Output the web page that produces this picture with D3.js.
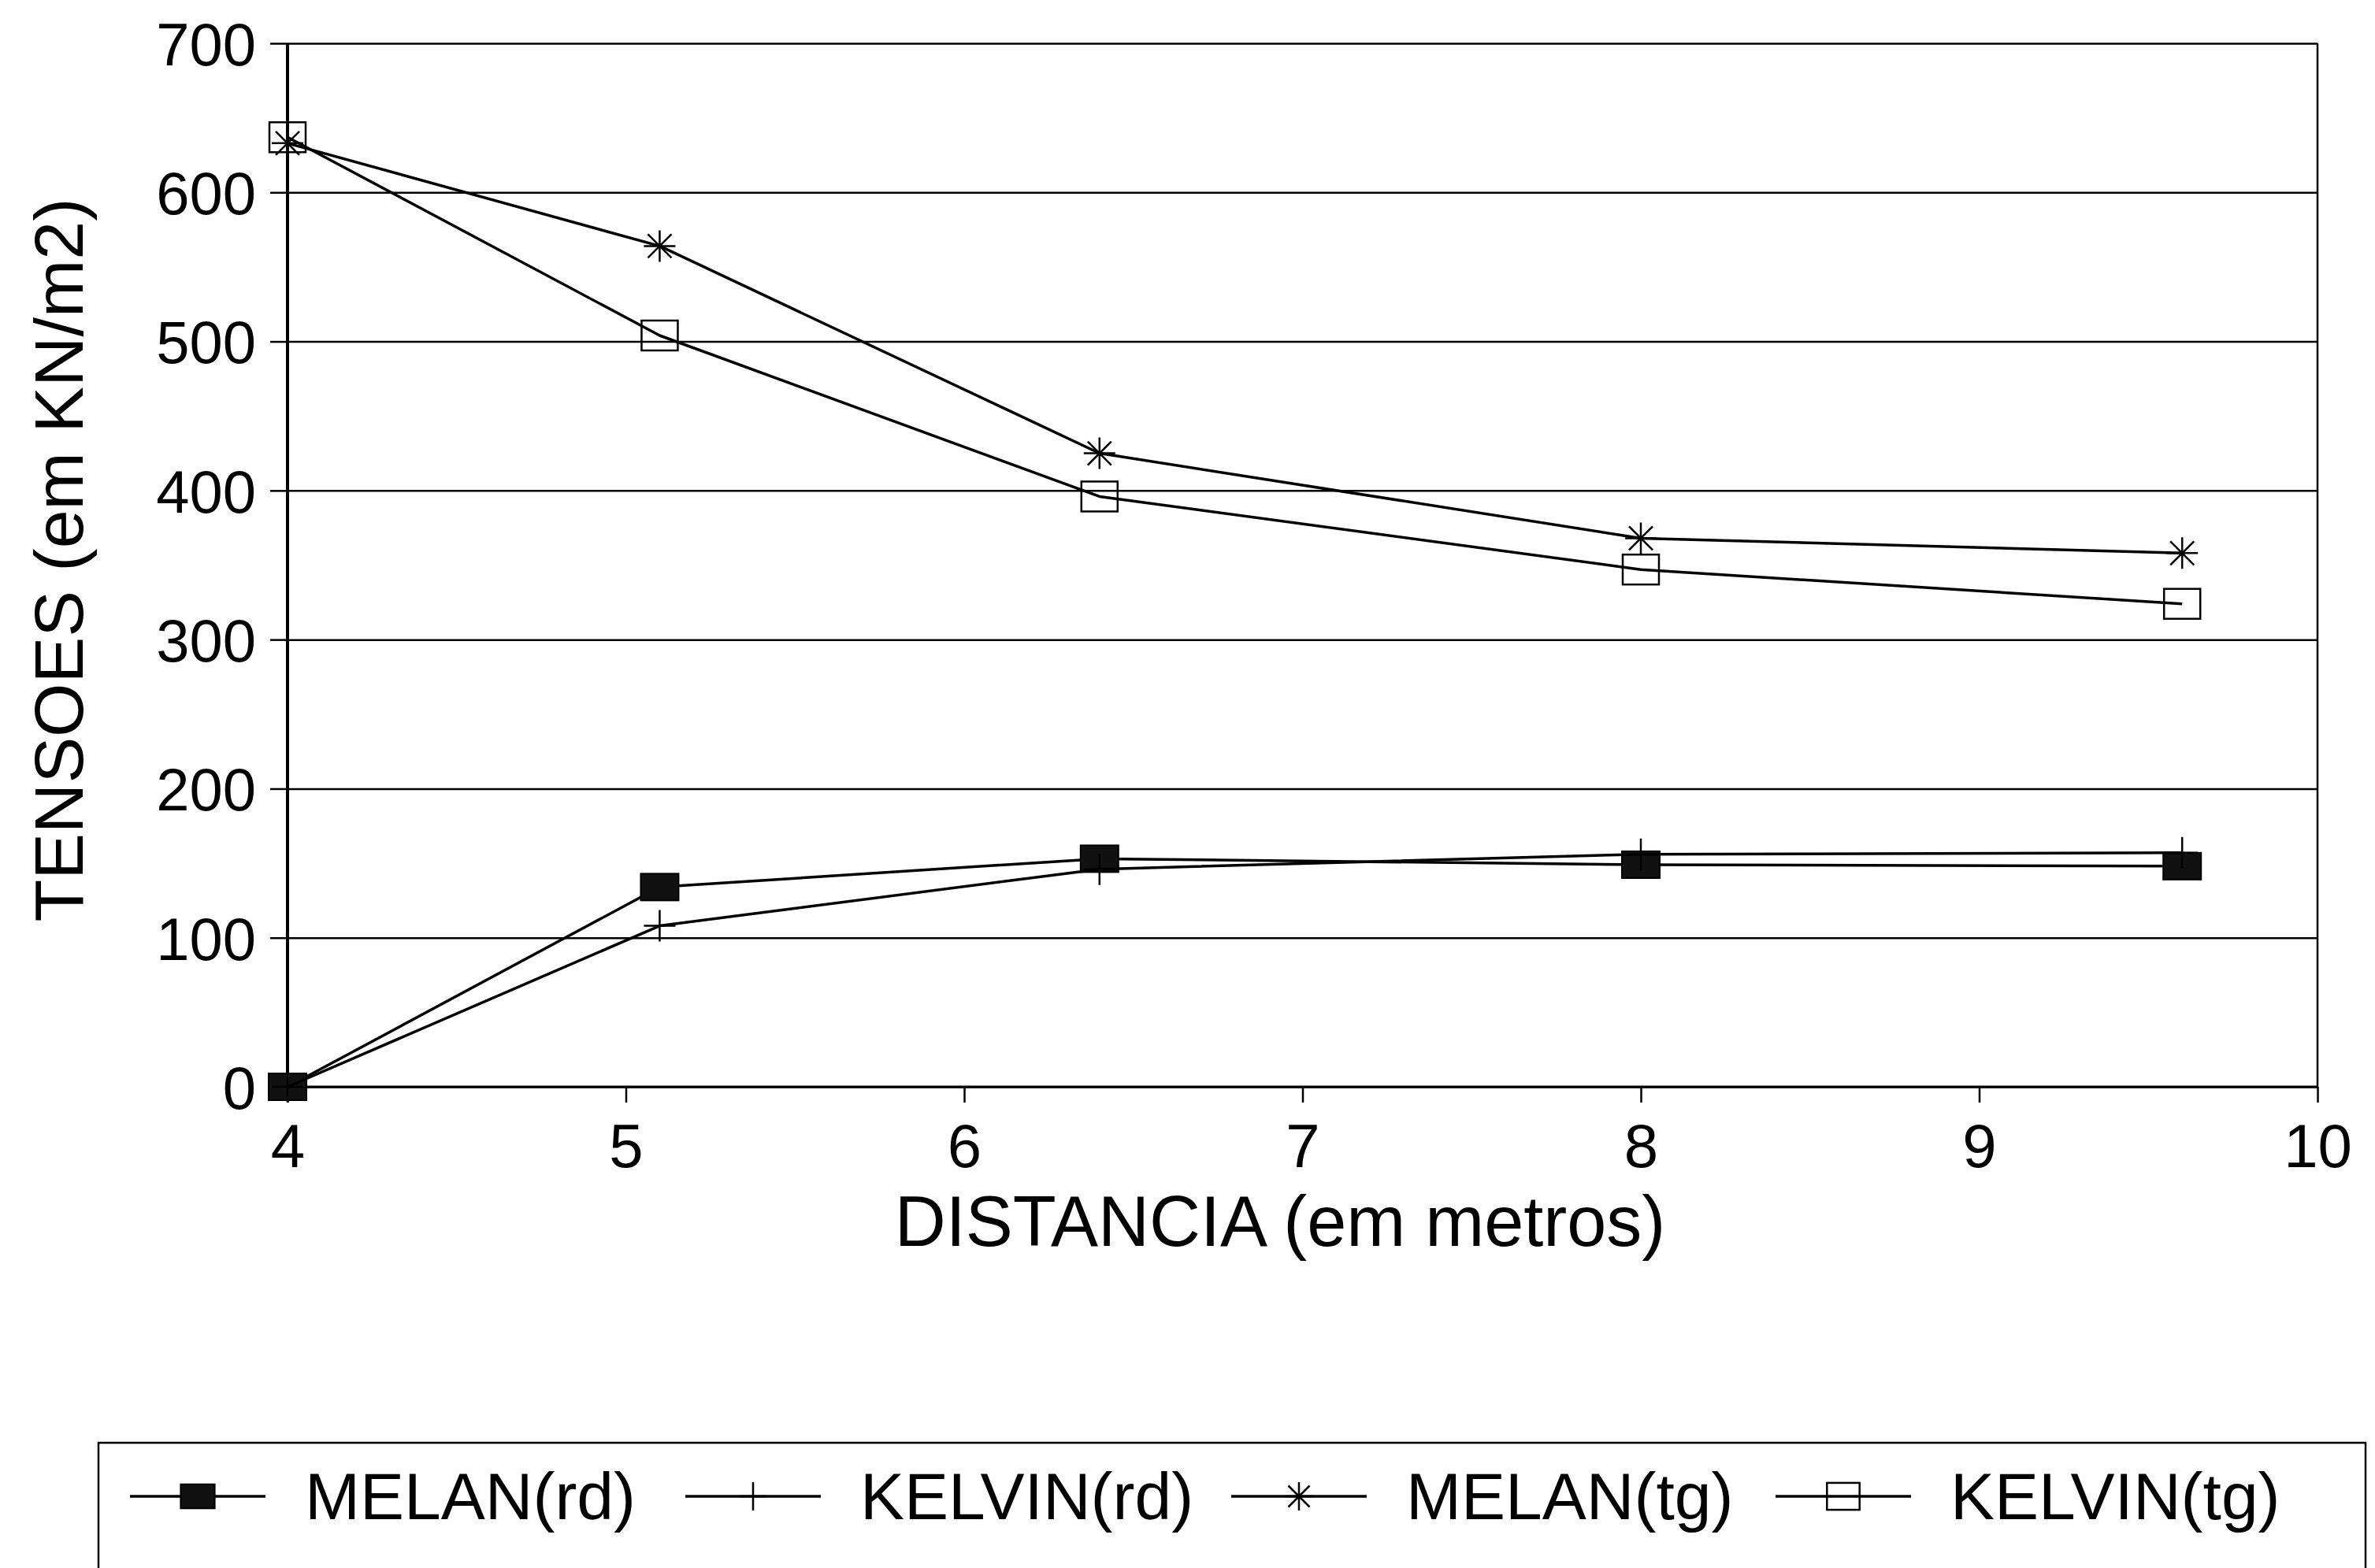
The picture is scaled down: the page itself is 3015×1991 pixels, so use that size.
<!DOCTYPE html>
<html>
<head>
<meta charset="utf-8">
<script src="https://cdn.jsdelivr.net/npm/d3@7"></script>
<style>
  body { margin: 0; background: #fff; }
  text { font-family: "Liberation Sans", Arial, Helvetica, sans-serif; fill: #000; }
  .grid line { stroke: #000; stroke-width: 2.5; }
  .grid path { display: none; }
  .axis path { display: none; }
  .axis line { stroke: #000; stroke-width: 2.5; }
  .serie { fill: none; stroke: #000; stroke-width: 3.5; stroke-linejoin: round; }
</style>
</head>
<body>
<script>

// valores
var distancia = [4, 5.1, 6.4, 8, 9.6];
var melanRd   = [0, 134, 153, 149, 148];
var kelvinRd  = [0, 108, 146, 156, 157];
var melanTg   = [633, 564, 425, 368, 358];
var kelvinTg  = [637, 504, 396, 347, 324];

var nomes   = ["MELAN(rd)", "KELVIN(rd)", "MELAN(tg)", "KELVIN(tg)"];
var simbolos = ["quadCheio", "mais", "asterisco", "quadVazio"];
var xTicks  = [4, 5, 6, 7, 8, 9, 10];
var yTicks  = [0, 100, 200, 300, 400, 500, 600, 700];

var margin = {top: 55, right: 73, bottom: 611, left: 365},
    width = 3015 - margin.left - margin.right,
    height = 1991 - margin.top - margin.bottom;

var x = d3.scaleLinear().domain([4, 10]).range([0, width]);
var y = d3.scaleLinear().domain([0, 700]).range([height, 0]);

var root = d3.select("body")
    .append("svg")
    .attr("width", 3015)
    .attr("height", 1991);

var svg = root.append("g")
    .attr("transform", "translate(" + margin.left + "," + margin.top + ")");

// linhas de grade horizontais
svg.append("g")
    .attr("class", "grid")
    .call(d3.axisLeft(y).tickValues(yTicks).tickSize(-width).tickFormat(""));

// moldura: direita
svg.append("line")
    .attr("x1", width).attr("x2", width)
    .attr("y1", 0).attr("y2", height)
    .attr("stroke", "#000").attr("stroke-width", 2.5);

// eixo y
svg.append("g")
    .attr("class", "axis")
    .call(d3.axisLeft(y).tickValues(yTicks).tickSize(22).tickPadding(18))
    .selectAll("text")
    .style("font-size", "76px")
    .attr("dy", "0.36em");

svg.append("line")
    .attr("x1", 0).attr("x2", 0)
    .attr("y1", 0).attr("y2", height)
    .attr("stroke", "#000").attr("stroke-width", 4);

// eixo x
svg.append("g")
    .attr("class", "axis")
    .attr("transform", "translate(0," + height + ")")
    .call(d3.axisBottom(x).tickValues(xTicks).tickSize(20).tickPadding(27).tickFormat(d3.format("d")))
    .selectAll("text")
    .style("font-size", "78px");

svg.append("line")
    .attr("x1", 0).attr("x2", width)
    .attr("y1", height).attr("y2", height)
    .attr("stroke", "#000").attr("stroke-width", 3);

// titulos
svg.append("text")
    .attr("x", 1625 - margin.left)
    .attr("y", height + 202)
    .style("text-anchor", "middle")
    .style("font-size", "90px")
    .text("DISTANCIA (em metros)");

svg.append("text")
    .attr("transform", "rotate(-90)")
    .attr("x", -(711 - margin.top))
    .attr("y", 73 - margin.left)
    .attr("dy", "0.36em")
    .style("text-anchor", "middle")
    .style("font-size", "88px")
    .text("TENSOES (em KN/m2)");

// simbolos
function simbolo(g, tipo, cx, cy, s) {
  if (tipo == "quadCheio") {
    g.append("rect")
      .attr("x", cx - 24 * s).attr("y", cy - 17 * s)
      .attr("width", 48 * s).attr("height", 34 * s)
      .attr("fill", "#111").attr("stroke", "#000").attr("stroke-width", 2);
  } else if (tipo == "quadVazio") {
    g.append("rect")
      .attr("x", cx - 23 * s).attr("y", cy - 19 * s)
      .attr("width", 46 * s).attr("height", 38 * s)
      .attr("fill", "none").attr("stroke", "#000").attr("stroke-width", 2.5);
  } else if (tipo == "mais") {
    var r = 20 * s;
    g.append("path")
      .attr("d", "M" + (cx - r) + "," + cy + "H" + (cx + r) + "M" + cx + "," + (cy - r) + "V" + (cy + r))
      .attr("stroke", "#000").attr("stroke-width", 2.5);
  } else {
    var r = 20 * s, d = r * 0.75;
    g.append("path")
      .attr("d", "M" + (cx - r) + "," + cy + "H" + (cx + r) +
                 "M" + cx + "," + (cy - r) + "V" + (cy + r) +
                 "M" + (cx - d) + "," + (cy - d) + "L" + (cx + d) + "," + (cy + d) +
                 "M" + (cx - d) + "," + (cy + d) + "L" + (cx + d) + "," + (cy - d))
      .attr("stroke", "#000").attr("stroke-width", 2.5);
  }
}

var valores = [melanRd, kelvinRd, melanTg, kelvinTg];

var linha = d3.line()
    .x(function(d, i) { return x(distancia[i]); })
    .y(function(d) { return y(d); });

valores.forEach(function(serie, k) {
  svg.append("path")
    .datum(serie)
    .attr("class", "serie")
    .attr("d", linha);
  serie.forEach(function(v, i) {
    simbolo(svg, simbolos[k], x(distancia[i]), y(v), 1);
  });
});

// legenda
var leg = root.append("g");
leg.append("rect")
    .attr("x", 125).attr("y", 1832)
    .attr("width", 2878).attr("height", 220)
    .attr("fill", "none").attr("stroke", "#000").attr("stroke-width", 2.5);

var legX = [165, 870, 1563, 2254];
nomes.forEach(function(nome, k) {
  var x0 = legX[k], ly = 1900;
  leg.append("line")
    .attr("x1", x0).attr("x2", x0 + 172)
    .attr("y1", ly).attr("y2", ly)
    .attr("stroke", "#000").attr("stroke-width", 3.5);
  simbolo(leg, simbolos[k], x0 + 86, ly, 0.9);
  leg.append("text")
    .attr("x", x0 + 222)
    .attr("y", 1929)
    .style("font-size", "84px")
    .text(nome);
});

</script>
</body>
</html>
